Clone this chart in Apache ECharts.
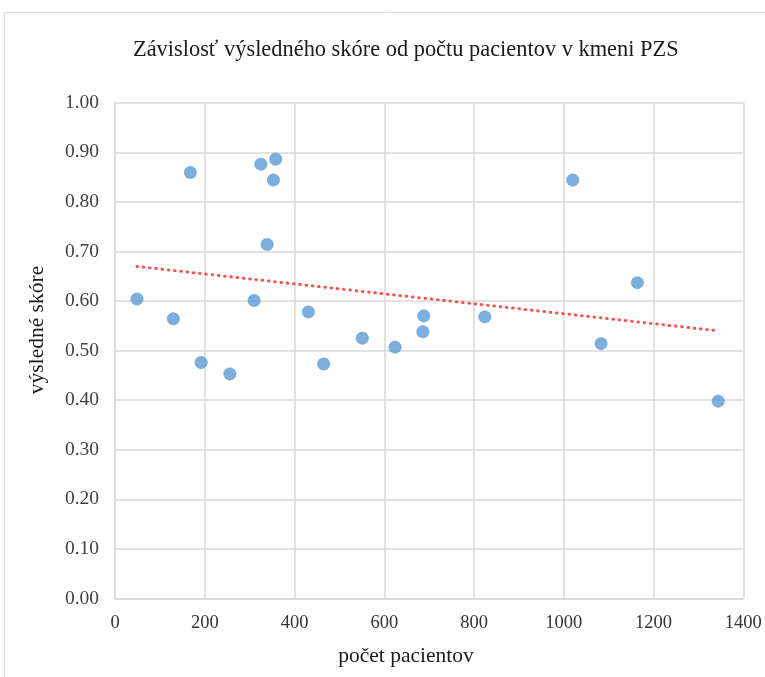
<!DOCTYPE html>
<html>
<head>
<meta charset="utf-8">
<script src="https://cdn.jsdelivr.net/npm/echarts@6/dist/echarts.min.js"></script>
<style>
  html, body { margin: 0; padding: 0; background: #ffffff; }
  #chart { width: 765px; height: 677px; }
</style>
</head>
<body>
<div id="chart"></div>
<script>
// Number of patients per practice (x) and resulting score (y)
const patientCounts = [49, 130, 168, 192, 256, 310, 325, 358, 353, 339, 431, 465, 551, 624, 688, 686, 824, 1020, 1083, 1164, 1344];
const scores = [0.604, 0.564, 0.859, 0.476, 0.453, 0.601, 0.876, 0.886, 0.844, 0.714, 0.578, 0.473, 0.525, 0.507, 0.570, 0.538, 0.568, 0.844, 0.514, 0.637, 0.398];

const titleText = 'Závislosť výsledného skóre od počtu pacientov v kmeni PZS';
const xName = 'počet pacientov';
const yName = 'výsledné skóre';

const points = patientCounts.map((x, i) => [x, scores[i]]);

// Least-squares linear trend over the points
const n = points.length;
const mx = patientCounts.reduce((a, b) => a + b, 0) / n;
const my = scores.reduce((a, b) => a + b, 0) / n;
let sxy = 0, sxx = 0;
for (let i = 0; i < n; i++) {
  sxy += (patientCounts[i] - mx) * (scores[i] - my);
  sxx += (patientCounts[i] - mx) * (patientCounts[i] - mx);
}
const slope = sxy / sxx;
const intercept = my - slope * mx;
const xMin = Math.min(...patientCounts);
const xMax = Math.max(...patientCounts);
const trend = [[xMin, intercept + slope * xMin], [xMax, intercept + slope * xMax]];

const serif = '"Liberation Serif", "DejaVu Serif", serif';
const gridColor = '#d9d9d9';
const textColor = '#1a1a1a';

const chart = echarts.init(document.getElementById('chart'));
chart.setOption({
  animation: false,
  backgroundColor: '#ffffff',
  graphic: [
    {
      type: 'rect',
      shape: { x: 4.5, y: 12.5, width: 800, height: 700 },
      style: { fill: 'none', stroke: '#d9d9d9', lineWidth: 1 },
      silent: true,
      z: -10
    },
    {
      // axis title of the vertical axis
      type: 'text',
      x: 37, y: 330,
      rotation: Math.PI / 2,
      style: {
        text: yName, fontFamily: serif, fontSize: 21.5, fill: textColor,
        align: 'center', verticalAlign: 'middle'
      }
    },
    {
      // axis title of the horizontal axis
      type: 'text',
      x: 406, y: 656,
      style: {
        text: xName, fontFamily: serif, fontSize: 21.5, fill: textColor,
        align: 'center', verticalAlign: 'middle'
      }
    }
  ],
  title: {
    text: titleText,
    left: 128,
    top: 34,
    textStyle: { fontFamily: serif, fontSize: 22.4, fontWeight: 'normal', color: textColor }
  },
  grid: { left: 115, right: 21.7, top: 102.7, bottom: 78.5, containLabel: false },
  xAxis: {
    type: 'value',
    min: 0, max: 1400, interval: 200,
    axisLine: { show: true, lineStyle: { color: gridColor, width: 1.5 } },
    axisTick: { show: false },
    axisLabel: { fontFamily: serif, fontSize: 18.5, color: '#333333', margin: 15.5, formatter: v => String(v) },
    splitLine: { show: true, lineStyle: { color: gridColor, width: 1.5 } }
  },
  yAxis: {
    type: 'value',
    min: 0, max: 1, interval: 0.1,
    axisLine: { show: true, lineStyle: { color: gridColor, width: 1.5 } },
    axisTick: { show: false },
    axisLabel: { fontFamily: serif, fontSize: 19.5, color: '#404040', margin: 16, formatter: v => v.toFixed(2) },
    splitLine: { show: true, lineStyle: { color: gridColor, width: 1.5 } }
  },
  series: [
    {
      type: 'line',
      data: trend,
      symbol: 'none',
      lineStyle: { color: '#ff4d4d', width: 3, type: [0.5, 5.8], cap: 'round' },
      z: 3
    },
    {
      type: 'scatter',
      data: points,
      symbol: 'circle',
      symbolSize: 12.5,
      itemStyle: { color: '#5b9bd5', borderColor: '#5b9bd5', borderWidth: 0.5 },
      z: 4
    }
  ]
});
</script>
</body>
</html>
